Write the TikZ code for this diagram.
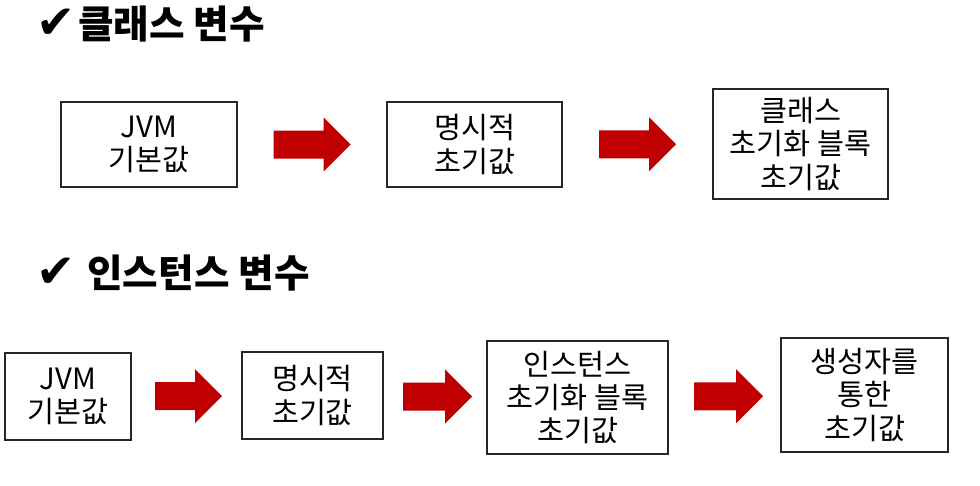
\documentclass[tikz,border=0pt]{standalone}
\usepackage{fontspec}
\setmainfont{Noto Sans CJK KR}
\newfontfamily\symfont{DejaVu Sans}
\usetikzlibrary{calc}
\definecolor{arrowred}{RGB}{192,0,0}

\newcommand{\checkmk}{{\symfont\fontsize{35pt}{35pt}\selectfont ✔}}

\tikzset{
  valbox/.style={draw=black!85, line width=1pt, align=center, inner sep=0pt,
    font=\fontsize{22pt}{25pt}\selectfont},
  vartitle/.style={anchor=west, inner sep=0pt, font=\fontsize{29pt}{32pt}\selectfont\bfseries},
  pics/redarrow/.style={code={
    \fill[arrowred] (-#1/2,-14) -- (#1/2-27,-14) -- (#1/2-27,-27) -- (#1/2,0)
      -- (#1/2-27,27) -- (#1/2-27,14) -- (-#1/2,14) -- cycle;
  }},
}

\begin{document}
\begin{tikzpicture}[x=0.75pt,y=-0.75pt]
  \useasboundingbox (0,0) rectangle (980,485);

  % class variables
  \node[vartitle] (ctitle) at (36,24) {\checkmk\hspace{2pt}클래스 변수};
  \node[valbox, minimum width=132pt, minimum height=63.75pt] (cjvm) at (149,144.5) {JVM\\기본값};
  \node[valbox, minimum width=131.25pt, minimum height=63.75pt] (cexp) at (474.5,144.5) {명시적\\초기값};
  \node[valbox, minimum width=131.25pt, minimum height=82.5pt] (cblk) at (800.5,144) {클래스\\초기화 블록\\초기값};
  \path (cjvm.east) -- (cexp.west) coordinate[midway] (c1);
  \path (cexp.east) -- (cblk.west) coordinate[midway] (c2);
  \pic at (c1) {redarrow=77};
  \pic at (c2) {redarrow=77};

  % instance variables
  \node[vartitle] (ititle) at (36,273) {\checkmk\hspace{9pt}인스턴스 변수};
  \node[valbox, minimum width=94.5pt, minimum height=65.25pt] (ijvm) at (68,396.5) {JVM\\기본값};
  \node[valbox, minimum width=105.75pt, minimum height=65.25pt] (iexp) at (312.5,395.5) {명시적\\초기값};
  \node[valbox, minimum width=135.75pt, minimum height=84.75pt] (iblk) at (577.5,397.5) {인스턴스\\초기화 블록\\초기값};
  \node[valbox, minimum width=125.25pt, minimum height=85.5pt] (icon) at (864.5,395) {생성자를\\통한\\초기값};
  \path (ijvm.east) -- (iexp.west) coordinate[midway] (i1);
  \path (iexp.east) -- (iblk.west) coordinate[midway] (i2);
  \path (iblk.east) -- (icon.west) coordinate[midway] (i3);
  \pic at ($(i1)+(2,0)$) {redarrow=67};
  \pic at ($(i2)+(2.5,0)$) {redarrow=69};
  \pic at ($(i3)+(4,0)$) {redarrow=69};
\end{tikzpicture}
\end{document}
